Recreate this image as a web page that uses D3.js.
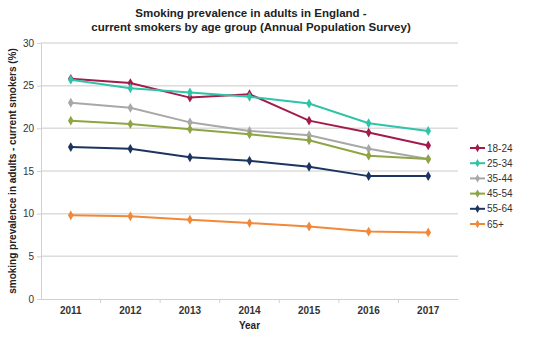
<!DOCTYPE html>
<html>
<head>
<meta charset="utf-8">
<script src="https://cdn.jsdelivr.net/npm/d3@7"></script>
<style>
  body { margin: 0; background: #fff; }
  svg { font-family: "Liberation Sans", Arial, sans-serif; }
</style>
</head>
<body>
<svg id="chart" width="541" height="353"></svg>
<script>
var years = ["2011", "2012", "2013", "2014", "2015", "2016", "2017"];
var ageGroups = ["18-24", "25-34", "35-44", "45-54", "55-64", "65+"];
var age18to24 = [25.8, 25.3, 23.6, 24.0, 20.9, 19.5, 18.0];
var age25to34 = [25.7, 24.7, 24.2, 23.7, 22.9, 20.6, 19.7];
var age35to44 = [23.0, 22.4, 20.7, 19.7, 19.2, 17.6, 16.4];
var age45to54 = [20.9, 20.5, 19.9, 19.3, 18.6, 16.8, 16.4];
var age55to64 = [17.8, 17.6, 16.6, 16.2, 15.5, 14.4, 14.4];
var age65plus = [9.8, 9.7, 9.3, 8.9, 8.5, 7.9, 7.8];
var yTicks = [0, 5, 10, 15, 20, 25, 30];
var colors = ["#a31b4b", "#2fc4a9", "#a8a8a8", "#8ea543", "#1c3560", "#f0893a"];

var seriesValues = [age18to24, age25to34, age35to44, age45to54, age55to64, age65plus];

function drawChart() {
    let chart = d3.select("#chart"),
        margin = { top: 43, right: 83, bottom: 54, left: 41 },
        width = +chart.attr("width") - margin.left - margin.right,
        height = +chart.attr("height") - margin.top - margin.bottom;

    let x = d3.scaleBand()
        .domain(years)
        .range([0, width]);

    let y = d3.scaleLinear()
        .domain([0, 30])
        .range([height, 0]);

    let focus = chart.append("g")
        .attr("transform", "translate(" + margin.left + "," + margin.top + ")");

    // gridlines
    focus.selectAll(".grid")
        .data(yTicks.filter(d => d > 0))
        .enter().append("line")
        .attr("x1", 0)
        .attr("x2", width)
        .attr("y1", d => y(d))
        .attr("y2", d => y(d))
        .style("stroke", "#dcdcdc")
        .style("stroke-width", 1.5);

    // y axis
    let yAxis = d3.axisLeft(y)
        .tickValues(yTicks)
        .tickSize(4)
        .tickPadding(3);

    let yg = focus.append("g").call(yAxis);
    yg.select(".domain").style("stroke", "#d0d0d0");
    yg.selectAll(".tick line").style("stroke", "#d0d0d0");
    yg.selectAll(".tick text")
        .style("font-size", "10px")
        .style("fill", "#333");

    // x axis with ticks at band edges
    let xAxis = d3.axisBottom(x)
        .tickSize(0)
        .tickPadding(8);

    let xg = focus.append("g")
        .attr("transform", "translate(0," + height + ")")
        .call(xAxis);
    xg.select(".domain").style("stroke", "#d0d0d0");
    xg.selectAll(".tick text")
        .style("font-size", "10px")
        .style("font-weight", "bold")
        .style("fill", "#333");

    focus.selectAll(".xtick")
        .data(years.slice(1))
        .enter().append("line")
        .attr("x1", d => x(d))
        .attr("x2", d => x(d))
        .attr("y1", height)
        .attr("y2", height + 4)
        .style("stroke", "#d0d0d0");

    let line = d3.line()
        .x((d, i) => x(years[i]) + x.bandwidth() / 2)
        .y(d => y(d));

    let marker = d3.symbol().type(d3.symbolDiamond).size(28);

    seriesValues.forEach(function (vals, s) {
        focus.append("path")
            .datum(vals)
            .attr("d", line)
            .style("fill", "none")
            .style("stroke", colors[s])
            .style("stroke-width", 2);

        focus.selectAll(".pt" + s)
            .data(vals)
            .enter().append("path")
            .attr("d", marker)
            .attr("transform", (d, i) => "translate(" + (x(years[i]) + x.bandwidth() / 2) + "," + y(d) + ")")
            .style("fill", colors[s]);
    });

    // title
    chart.append("text")
        .attr("x", 251)
        .attr("y", 17)
        .attr("text-anchor", "middle")
        .style("font-size", "11.5px")
        .style("font-weight", "bold")
        .style("fill", "#222")
        .text("Smoking prevalence in adults in England -");

    chart.append("text")
        .attr("x", 251)
        .attr("y", 31)
        .attr("text-anchor", "middle")
        .style("font-size", "11.5px")
        .style("font-weight", "bold")
        .style("fill", "#222")
        .text("current smokers by age group (Annual Population Survey)");

    // axis titles
    chart.append("text")
        .attr("x", margin.left + width / 2)
        .attr("y", 329)
        .attr("text-anchor", "middle")
        .style("font-size", "10px")
        .style("font-weight", "bold")
        .style("fill", "#222")
        .text("Year");

    chart.append("text")
        .attr("transform", "translate(16," + (margin.top + height / 2) + ") rotate(-90)")
        .attr("text-anchor", "middle")
        .style("font-size", "10px")
        .style("font-weight", "bold")
        .style("fill", "#222")
        .text("smoking prevalence in adults - current smokers (%)");

    // legend
    let legend = chart.append("g")
        .attr("transform", "translate(470,148)");

    ageGroups.forEach(function (name, i) {
        let g = legend.append("g").attr("transform", "translate(0," + i * 15.2 + ")");
        g.append("line")
            .attr("x1", 0).attr("x2", 15)
            .style("stroke", colors[i])
            .style("stroke-width", 2);
        g.append("path")
            .attr("d", d3.symbol().type(d3.symbolDiamond).size(20))
            .attr("transform", "translate(7.5,0)")
            .style("fill", colors[i]);
        g.append("text")
            .attr("x", 17)
            .attr("dy", "0.35em")
            .style("font-size", "10px")
            .style("fill", "#333")
            .text(name);
    });
}

drawChart();
</script>
</body>
</html>
